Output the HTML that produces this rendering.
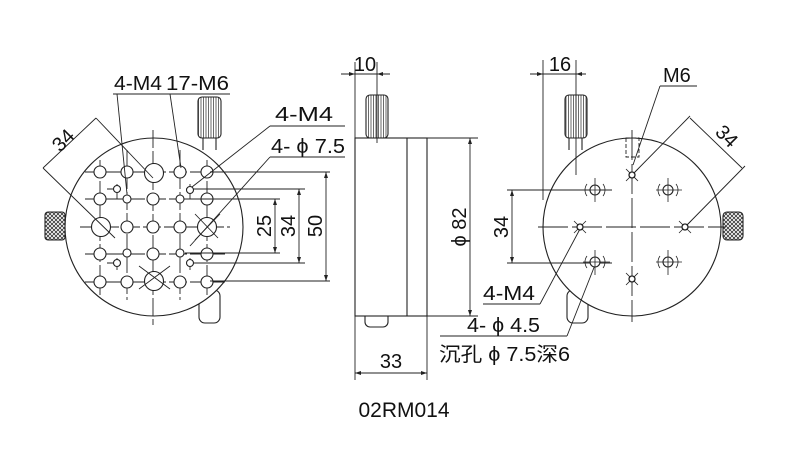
<!DOCTYPE html>
<html><head><meta charset="utf-8"><style>
html,body{margin:0;padding:0;background:#fff}
svg{display:block}
text{font-family:"Liberation Sans","Noto Sans CJK SC",sans-serif;fill:#111}
</style></head><body>
<svg width="787" height="472" viewBox="0 0 787 472" xmlns="http://www.w3.org/2000/svg">
<defs>
<pattern id="hatch" width="4" height="4" patternUnits="userSpaceOnUse">
<path d="M0 0L4 4M4 0L0 4" stroke="#333" stroke-width="0.8"/>
</pattern>
<pattern id="vstripe" width="2.5" height="10" patternUnits="userSpaceOnUse">
<path d="M1 0V10" stroke="#444" stroke-width="0.8"/>
</pattern>
</defs>
<g fill="none" stroke="#222" stroke-width="1.1">
<!-- LEFT VIEW -->
<rect x="199" y="290" width="21" height="33" rx="6" fill="#fff"/>
<line x1="203" y1="138" x2="203" y2="150"/><line x1="216" y1="138" x2="216" y2="150"/>
<rect x="198" y="97" width="23" height="41" rx="4" fill="url(#vstripe)"/>
<rect x="45" y="212" width="20" height="28" rx="3" fill="url(#hatch)"/>
<circle cx="154" cy="227" r="89" fill="#fff"/>
<g stroke-width="0.9">
<line x1="153" y1="130" x2="153" y2="325" stroke-dasharray="18 3"/>
<line x1="127" y1="150" x2="127" y2="300" stroke-dasharray="18 3"/>
<line x1="180" y1="150" x2="180" y2="300" stroke-dasharray="18 3"/>
<line x1="100" y1="160" x2="100" y2="295" stroke-dasharray="18 3"/>
<line x1="207" y1="160" x2="207" y2="295" stroke-dasharray="18 3"/>
<line x1="85" y1="172" x2="225" y2="172" stroke-dasharray="18 3"/>
<line x1="85" y1="199" x2="225" y2="199" stroke-dasharray="18 3"/>
<line x1="80" y1="227" x2="230" y2="227" stroke-dasharray="18 3"/>
<line x1="85" y1="254" x2="225" y2="254" stroke-dasharray="18 3"/>
<line x1="85" y1="282" x2="225" y2="282" stroke-dasharray="18 3"/>
<path d="M107 189H120M117 184V199M200 189H186M190 184V199M107 263H120M117 258V270M200 263H186M190 258V270"/>
</g>
<g fill="#fff">
<circle cx="100" cy="172" r="6"/><circle cx="127" cy="172" r="6"/><circle cx="180" cy="172" r="6"/><circle cx="207" cy="172" r="6"/>
<circle cx="100" cy="199" r="6"/><circle cx="153" cy="199" r="6"/><circle cx="207" cy="199" r="6"/>
<circle cx="127" cy="227" r="6"/><circle cx="153" cy="227" r="6"/><circle cx="180" cy="227" r="6"/>
<circle cx="100" cy="254" r="6"/><circle cx="153" cy="254" r="6"/><circle cx="207" cy="254" r="6"/>
<circle cx="100" cy="282" r="6"/><circle cx="127" cy="282" r="6"/><circle cx="180" cy="282" r="6"/><circle cx="207" cy="282" r="6"/>
<circle cx="127" cy="199" r="4"/><circle cx="180" cy="199" r="4"/><circle cx="127" cy="253" r="4"/><circle cx="180" cy="253" r="4"/>
<circle cx="117" cy="189" r="3.5"/><circle cx="190" cy="190" r="3.5"/><circle cx="117" cy="263" r="3.5"/><circle cx="190" cy="263" r="3.5"/>
<circle cx="154" cy="173" r="9.5"/><circle cx="101" cy="227" r="9.5"/><circle cx="207" cy="227" r="9.5"/><circle cx="154" cy="281" r="9.5"/>
</g>
<g stroke-width="0.9">
<path d="M139 289L170 266M139 266L170 289M195 240L220 214M195 214L218 238"/>
<line x1="96" y1="118" x2="153" y2="178"/>
<line x1="43" y1="168" x2="115" y2="238"/>
<line x1="43" y1="168" x2="96" y2="118"/>
<line x1="210" y1="172" x2="330" y2="172"/>
<line x1="195" y1="189" x2="305" y2="189"/>
<line x1="185" y1="199" x2="280" y2="199"/>
<line x1="185" y1="253" x2="280" y2="253"/>
<line x1="195" y1="263" x2="305" y2="263"/>
<line x1="210" y1="281" x2="330" y2="281"/>
<line x1="275" y1="199" x2="275" y2="253"/>
<line x1="299" y1="189" x2="299" y2="263"/>
<line x1="326" y1="172" x2="326" y2="281"/>
<line x1="113" y1="94" x2="230" y2="94"/>
<line x1="117" y1="94" x2="127" y2="194"/>
<line x1="170" y1="94" x2="181" y2="168"/>
<line x1="270" y1="126" x2="345" y2="126"/>
<line x1="270" y1="126" x2="192" y2="187"/>
<line x1="270" y1="157" x2="345" y2="157"/>
<line x1="270" y1="157" x2="190" y2="246"/>
</g>
<!-- SIDE VIEW -->
<rect x="366" y="95" width="22" height="43" rx="4" fill="url(#vstripe)"/>
<path d="M365 316V322A5 5 0 0 0 370 327H383A5 5 0 0 0 388 322V316"/>
<rect x="355" y="138" width="72" height="178" fill="#fff"/>
<line x1="407" y1="138" x2="407" y2="316"/>
<g stroke-width="0.9">
<line x1="355" y1="62" x2="355" y2="380"/>
<line x1="377" y1="62" x2="377" y2="143"/>
<line x1="341" y1="74" x2="390" y2="74"/>
<line x1="427" y1="138" x2="478" y2="138"/>
<line x1="427" y1="316" x2="478" y2="316"/>
<line x1="470" y1="138" x2="470" y2="316"/>
<line x1="427" y1="316" x2="427" y2="380"/>
<line x1="355" y1="373" x2="427" y2="373"/>
</g>
<!-- RIGHT VIEW -->
<rect x="567" y="290" width="21" height="33" rx="6" fill="#fff"/>
<line x1="569" y1="138" x2="569" y2="150"/><line x1="582" y1="138" x2="582" y2="150"/>
<rect x="565" y="95" width="22" height="43" rx="4" fill="url(#vstripe)"/>
<rect x="723" y="212" width="20" height="28" rx="4" fill="url(#hatch)"/>
<circle cx="632" cy="227" r="89" fill="#fff"/>
<g stroke-width="0.9">
<line x1="538" y1="227" x2="726" y2="227" stroke-dasharray="30 4"/>
<line x1="632" y1="130" x2="632" y2="322" stroke-dasharray="30 4"/>
<rect x="626" y="138" width="13" height="19" stroke-dasharray="4 2"/>
<line x1="543" y1="60" x2="543" y2="200"/>
<line x1="576" y1="60" x2="576" y2="175"/>
<line x1="530" y1="74" x2="586" y2="74"/>
<line x1="507" y1="190" x2="612" y2="190"/>
<line x1="507" y1="263" x2="612" y2="263"/>
<line x1="512" y1="190" x2="512" y2="263"/>
<line x1="690" y1="118" x2="742" y2="168"/>
<line x1="690" y1="116" x2="632" y2="175"/>
<line x1="745" y1="166" x2="685" y2="227"/>
<line x1="660" y1="86" x2="697" y2="86"/>
<line x1="660" y1="86" x2="633" y2="165"/>
<line x1="483" y1="304" x2="540" y2="304"/>
<line x1="540" y1="304" x2="580" y2="229"/>
<line x1="440" y1="336" x2="567" y2="336"/>
<line x1="567" y1="336" x2="595" y2="265"/>
</g>
<g fill="#fff">
<circle cx="595" cy="190" r="5"/><circle cx="668" cy="190" r="5"/><circle cx="595" cy="262" r="5"/><circle cx="668" cy="262" r="5"/>
</g>
<g stroke-width="0.8">
<path d="M583 190H610M595 178V202M656 190H682M668 178V202M583 262H610M595 250V275M656 262H682M668 250V275"/>
<path d="M587 184A10 10 0 0 0 587 196M603 184A10 10 0 0 1 603 196M660 184A10 10 0 0 0 660 196M676 184A10 10 0 0 1 676 196M587 256A10 10 0 0 0 587 268M603 256A10 10 0 0 1 603 268M660 256A10 10 0 0 0 660 268M676 256A10 10 0 0 1 676 268"/>
<path d="M626 169L638 181M638 169L626 181M574 221L586 233M586 221L574 233M679 221L691 233M691 221L679 233M626 273L638 285M638 273L626 285"/>
</g>
<g fill="#fff" stroke-width="1.3">
<circle cx="632" cy="175" r="3"/><circle cx="580" cy="227" r="3"/><circle cx="685" cy="227" r="3"/><circle cx="632" cy="279" r="3"/>
</g>
</g>
<g fill="#222">
<path d="M275 199l-2 6h4zM275 253l-2 -6h4zM299 189l-2 6h4zM299 263l-2 -6h4zM326 172l-2 6h4zM326 281l-2 -6h4z"/>
<path d="M470 138l-2 6h4zM470 316l-2 -6h4zM512 190l-2 6h4zM512 263l-2 -6h4z"/>
<path d="M355 373l6 -2v4zM427 373l-6 -2v4zM355 74l-6 -2v4zM377 74l6 -2v4zM543 74l-6 -2v4zM576 74l6 -2v4z"/>
</g>
<g font-size="20">
<text x="114" y="90" textLength="48" lengthAdjust="spacingAndGlyphs">4-M4</text>
<text x="166" y="90" textLength="63" lengthAdjust="spacingAndGlyphs">17-M6</text>
<text x="275" y="121" textLength="58" lengthAdjust="spacingAndGlyphs">4-M4</text>
<text x="271" y="153" textLength="74" lengthAdjust="spacingAndGlyphs">4- ϕ 7.5</text>
<text transform="translate(68,145) rotate(-45)" text-anchor="middle">34</text>
<text transform="translate(271,226) rotate(-90)" text-anchor="middle">25</text>
<text transform="translate(295,226) rotate(-90)" text-anchor="middle">34</text>
<text transform="translate(322,226) rotate(-90)" text-anchor="middle">50</text>
<text x="365" y="71" text-anchor="middle">10</text>
<text transform="translate(466,227) rotate(-90)" text-anchor="middle">ϕ 82</text>
<text x="391" y="368" text-anchor="middle">33</text>
<text x="560" y="71" text-anchor="middle">16</text>
<text x="663" y="82">M6</text>
<text transform="translate(508,227) rotate(-90)" text-anchor="middle">34</text>
<text transform="translate(722,141) rotate(45)" text-anchor="middle">34</text>
<text x="483" y="300" textLength="52" lengthAdjust="spacingAndGlyphs">4-M4</text>
<text x="467" y="332" textLength="73" lengthAdjust="spacingAndGlyphs">4- ϕ 4.5</text>
<text x="439" y="361" textLength="131" lengthAdjust="spacingAndGlyphs">沉孔 ϕ 7.5深6</text>
<text x="404" y="417" text-anchor="middle" font-size="21">02RM014</text>
</g>
</svg>
</body></html>
